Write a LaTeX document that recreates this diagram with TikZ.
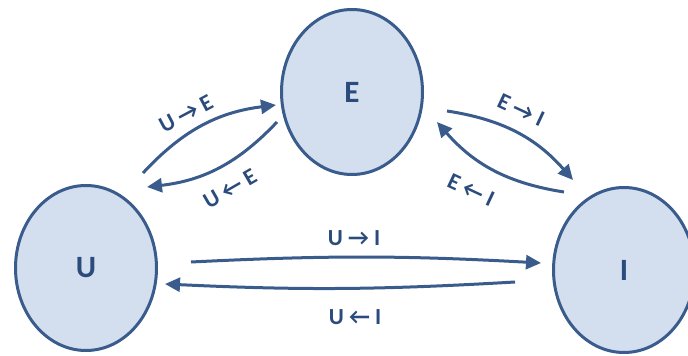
\documentclass[tikz,border=0pt]{standalone}
\usepackage{fontspec}
\setmainfont{Carlito}
\usetikzlibrary{shapes.geometric,arrows.meta}
\definecolor{edgeblue}{HTML}{3A5C8C}
\definecolor{fillblue}{HTML}{D3DFEE}
\definecolor{textblue}{HTML}{2A4B7C}

\begin{document}
\begin{tikzpicture}
[
    x=1pt, y=1pt,
    state/.style={ellipse, draw=edgeblue, line width=3pt, fill=fillblue, inner sep=0pt,
        minimum width=141pt, minimum height=165pt, text=textblue,
        font=\fontsize{31}{31}\selectfont\bfseries},
    link/.style={draw=edgeblue, line width=3pt, -{Triangle[length=15pt,width=14pt]}},
    lbl/.style={text=textblue, inner sep=0pt, font=\fontsize{23}{23}\selectfont\bfseries}
]
    \useasboundingbox (0,0) rectangle (688,356);

    \node [state] (U) at (86,88) {U};
    \node [state] (E) at (352,264) {E};
    \node [state] (I) at (624,86) {I};

    \coordinate (ue1) at (143,183);
    \coordinate (ue2) at (276,251);
    \coordinate (eu1) at (277,234);
    \coordinate (eu2) at (147,169);
    \coordinate (ei1) at (447,245);
    \coordinate (ei2) at (573,176);
    \coordinate (ie1) at (564,164);
    \coordinate (ie2) at (437,234);
    \coordinate (ui1) at (191,94);
    \coordinate (ui2) at (541,93);
    \coordinate (iu1) at (515,74);
    \coordinate (iu2) at (165,72);

    \draw [link] (ue1) to [bend left=20] (ue2);
    \draw [link] (eu1) to [bend left=20] (eu2);
    \draw [link] (ei1) to [bend left=20] (ei2);
    \draw [link] (ie1) to [bend left=20] (ie2);
    \draw [link] (ui1) to [bend left=3] (ui2);
    \draw [link] (iu1) to [bend left=3] (iu2);

    \node [lbl, rotate=28] (lue) at (186,242) {U → E};
    \node [lbl, rotate=30] (leu) at (230,167) {U ← E};
    \node [lbl, rotate=-25] (lei) at (521,246) {E → I};
    \node [lbl, rotate=-25] (lie) at (471,166) {E ← I};
    \node [lbl] (lui) at (354,118) {U → I};
    \node [lbl] (liu) at (355,39) {U ← I};
\end{tikzpicture}
\end{document}
